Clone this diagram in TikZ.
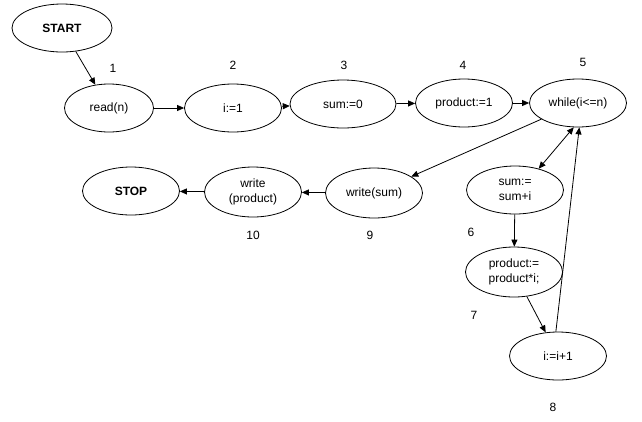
\documentclass[tikz,border=0pt]{standalone}
\usepackage{fontspec}
\setmainfont{Liberation Sans}
\usetikzlibrary{shapes.geometric, arrows.meta}

\begin{document}
\begin{tikzpicture}[
    x=1pt, y=-1pt,
    stmt/.style={
      draw, ellipse, line width=0.8pt, inner sep=0pt,
      minimum width=97pt, minimum height=48pt,
      font=\fontsize{12}{15}\selectfont, align=center
    },
    terminal/.style={stmt, font=\fontsize{12}{15}\selectfont\bfseries},
    stepnum/.style={font=\fontsize{12}{15}\selectfont},
    flow/.style={-{Triangle[length=7pt,width=6pt]}, line width=0.8pt}
  ]
    \useasboundingbox (0,0) rectangle (642,421);

    % Top row
    \node[terminal, minimum width=100pt] (start) at (62,28) {START};
    \node[stmt, minimum width=89pt] (read) at (109,108) {read(n)};
    \node[stmt] (init) at (233,108) {i:=1};
    \node[stmt, minimum width=106pt] (sumzero) at (343,104) {sum:=0};
    \node[stmt] (prodone) at (464,103) {product:=1};
    \node[stmt] (while) at (578,103) {while(i<=n)};

    % Output row
    \node[terminal] (stop) at (131,191) {STOP};
    \node[stmt, minimum height=50pt] (wprod) at (253,192) {write\\(product)};
    \node[stmt, minimum height=50pt] (wsum) at (374,193) {write(sum)};

    % Loop body
    \node[stmt] (addsum) at (515,190) {sum:=\\sum+i};
    \node[stmt, minimum height=50pt] (mulprod) at (514,272) {product:=\\product*i;};
    \node[stmt] (incr) at (558,356) {i:=i+1};

    % Step numbers
    \node[stepnum] (n1) at (113,68) {1};
    \node[stepnum] (n2) at (233,65) {2};
    \node[stepnum] (n3) at (344,65) {3};
    \node[stepnum] (n4) at (463,65) {4};
    \node[stepnum] (n5) at (583,62) {5};
    \node[stepnum] (n6) at (471,232) {6};
    \node[stepnum] (n7) at (474,315) {7};
    \node[stepnum] (n8) at (553,407) {8};
    \node[stepnum] (n9) at (370,235) {9};
    \node[stepnum] (n10) at (253,235) {10};

    % Connectors
    \draw[flow] (start) -- (read);
    \draw[flow] (read) -- (init);
    \draw[flow] (init) -- (sumzero);
    \draw[flow] (sumzero) -- (prodone);
    \draw[flow] (prodone) -- (while);
    \draw[flow] (while) -- (wsum);
    \draw[flow] (wsum) -- (wprod);
    \draw[flow] (wprod) -- (stop);
    \draw[flow, {Triangle[length=7pt,width=6pt]}-{Triangle[length=7pt,width=6pt]}]
      (while.-100) -- (addsum.42);
    \draw[flow] (addsum) -- (mulprod);
    \draw[flow] (mulprod) -- (incr);
    \draw[flow] (incr.95) -- (while.-87);
  \end{tikzpicture}
\end{document}
